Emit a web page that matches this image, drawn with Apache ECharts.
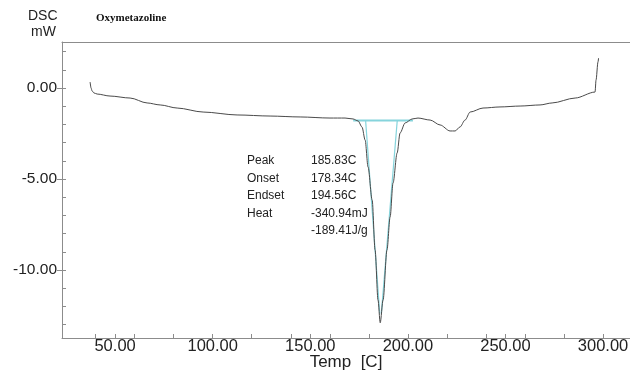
<!DOCTYPE html>
<html>
<head>
<meta charset="utf-8">
<script src="https://cdn.jsdelivr.net/npm/echarts@6/dist/echarts.min.js"></script>
<style>
  html, body { margin: 0; padding: 0; background: #fff; }
  #chart { width: 630px; height: 373px; }
</style>
</head>
<body>
<div id="chart"></div>
<script>
// DSC thermogram of oxymetazoline: temperature (C) vs heat flow (mW)
const temps = [37.2, 37.7, 38.2, 39.2, 40.8, 47.4, 57.7, 66.4, 73.1, 81.8, 95.1, 112.5, 129.4, 144.8, 160.1, 167.8, 171.9, 174.5, 176.5, 178.1, 179.6, 181.7, 183.2, 184.7, 185.83, 187.3, 189.3, 190.9, 192.4, 194.5, 196.0, 198.6, 202.2, 205.2, 211.4, 216.5, 221.6, 224.2, 226.7, 229.3, 231.9, 238.5, 247.2, 257.5, 267.7, 273.9, 285.7, 295.9, 296.4, 297.4, 297.7];
const heatFlow = [0.33, 0.0, -0.16, -0.27, -0.33, -0.44, -0.55, -0.82, -0.93, -1.10, -1.32, -1.48, -1.54, -1.59, -1.65, -1.65, -1.70, -1.81, -2.14, -2.86, -4.34, -6.15, -8.90, -11.65, -12.9, -11.65, -8.90, -7.09, -5.22, -3.57, -2.47, -1.92, -1.70, -1.65, -1.76, -2.03, -2.36, -2.36, -2.14, -1.76, -1.32, -1.10, -1.04, -0.99, -0.93, -0.82, -0.55, -0.22, 0.44, 1.43, 1.65];

// Peak analysis construction lines (baseline and onset/endset tangents)
const baselineT = [172.0, 202.6];
const baselineY = [-1.78, -1.78];
const onsetT = [178.34, 185.6];
const onsetY = [-1.78, -12.4];
const endsetT = [194.56, 186.4];
const endsetY = [-1.78, -12.4];

// Axis ticks and labels
const xLabelValues = [50, 100, 150, 200, 250, 300];
const xTickValues = [40, 50, 60, 80, 100, 120, 140, 150, 160, 180, 200, 220, 240, 250, 260, 280, 300];
const yLabelValues = [0, -5, -10];
const yTickValues = [2, 1, 0, -1, -2, -3, -4, -5, -6, -7, -8, -9, -10, -11, -12, -13];

// Peak results
const resultNames = ['Peak', 'Onset', 'Endset', 'Heat', ''];
const resultValues = ['185.83C', '178.34C', '194.56C', '-340.94mJ', '-189.41J/g'];

const zip = (a, b) => a.map((v, i) => [v, b[i]]);

const X_MIN = 22.8, X_MAX = 313.8, Y_MIN = -13.74, Y_MAX = 2.53;
const axisGray = '#8c8c8c';
const font = 'Liberation Sans, Arial, sans-serif';
const cyan = '#86d4dc';

const chart = echarts.init(document.getElementById('chart'), null, { renderer: 'canvas' });

const graphics = [
  { type: 'text', left: 28, top: 9, style: { text: 'DSC', font: '14px ' + font, fill: '#222' } },
  { type: 'text', left: 31, top: 25, style: { text: 'mW', font: '14px ' + font, fill: '#222' } },
  { type: 'text', left: 96, top: 13, style: { text: 'Oxymetazoline', font: 'bold 11px Liberation Serif, Times New Roman, serif', fill: '#111' } },
  // x-axis title
  { type: 'text', x: 346, y: 362, style: { text: 'Temp  [C]', font: '17px ' + font, fill: '#222', align: 'center', verticalAlign: 'middle' } }
];
resultNames.forEach((n, i) => {
  const top = 155 + i * 17.5;
  if (n) graphics.push({ type: 'text', left: 247, top: top, style: { text: n, font: '12px ' + font, fill: '#222' } });
  graphics.push({ type: 'text', left: 311, top: top, style: { text: resultValues[i], font: '12px ' + font, fill: '#222' } });
});

const option = {
  backgroundColor: '#fff',
  animation: false,
  grid: { left: 62, right: 0, top: 42, bottom: 35, outerBoundsMode: 'none', containLabel: false },
  xAxis: [
    {
      type: 'value', position: 'bottom', min: X_MIN, max: X_MAX,
      axisLine: { show: true, onZero: false, lineStyle: { color: axisGray, width: 1 } },
      axisTick: { show: true, inside: true, length: 4, customValues: xTickValues, lineStyle: { color: axisGray } },
      axisLabel: { customValues: xLabelValues, formatter: v => v.toFixed(2), color: '#222', fontSize: 16.5, fontFamily: font, margin: 0 },
      splitLine: { show: false }
    },
    {
      type: 'value', position: 'top', min: X_MIN, max: X_MAX,
      axisLine: { show: true, onZero: false, lineStyle: { color: axisGray, width: 1 } },
      axisTick: { show: false }, axisLabel: { show: false }, splitLine: { show: false }
    }
  ],
  yAxis: [
    {
      type: 'value', position: 'left', min: Y_MIN, max: Y_MAX,
      axisLine: { show: true, onZero: false, lineStyle: { color: axisGray, width: 1 } },
      axisTick: { show: true, inside: false, length: 5, customValues: yLabelValues, lineStyle: { color: axisGray } },
      axisLabel: { customValues: yLabelValues, formatter: v => v.toFixed(2), color: '#222', fontSize: 15.5, fontFamily: font, margin: 5 },
      splitLine: { show: false }
    },
    {
      type: 'value', position: 'left', min: Y_MIN, max: Y_MAX,
      axisLine: { show: false, onZero: false },
      axisTick: { show: true, inside: true, length: 4, customValues: yTickValues, lineStyle: { color: axisGray } },
      axisLabel: { show: false }, splitLine: { show: false }
    }
  ],
  graphic: graphics,
  series: [
    { type: 'line', data: zip(baselineT, baselineY), symbol: 'none', lineStyle: { color: cyan, width: 2 }, z: 2 },
    { type: 'line', data: zip(onsetT, onsetY), symbol: 'none', lineStyle: { color: cyan, width: 1.2 }, z: 2 },
    { type: 'line', data: zip(endsetT, endsetY), symbol: 'none', lineStyle: { color: cyan, width: 1.2 }, z: 2 },
    {
      type: 'line', data: zip(temps, heatFlow), symbol: 'none',
      smooth: 0.3, smoothMonotone: 'x',
      lineStyle: { color: '#4a4a4a', width: 1 }, z: 3
    }
  ]
};
chart.setOption(option);
</script>
</body>
</html>
